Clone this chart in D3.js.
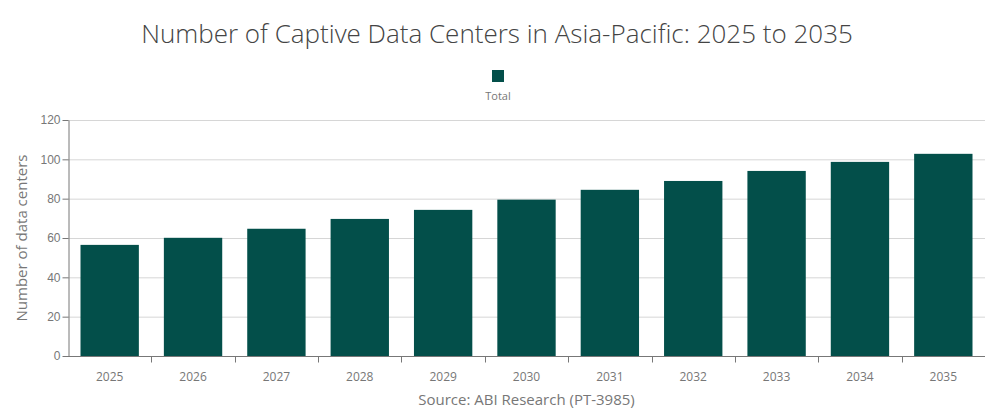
<!DOCTYPE html>
<html>
<head>
<meta charset="utf-8">
<script src="https://cdn.jsdelivr.net/npm/d3@7"></script>
<style>
  body { margin: 0; background: #fff; }
  svg { font-family: "Open Sans", "Noto Sans", sans-serif; }
</style>
</head>
<body>
<div id="chart"><svg width="994" height="420"></svg></div>
<script>
var years = ["2025", "2026", "2027", "2028", "2029", "2030", "2031", "2032", "2033", "2034", "2035"];
var totals = [56.5, 60.1, 64.7, 69.7, 74.3, 79.5, 84.5, 89.0, 94.1, 98.7, 102.8];
var yTicks = [0, 20, 40, 60, 80, 100, 120];
var seriesName = "Total";

var svg = d3.select("#chart svg");
var margin = {left: 68, right: 9, top: 120, bottom: 64};
var w = 994 - margin.left - margin.right;
var h = 420 - margin.top - margin.bottom;
var barColor = "#034f4a";

var x = d3.scaleBand().domain(years).range([0, w]).paddingInner(0.3).paddingOuter(0.15);
var y = d3.scaleLinear().domain([0, 120]).range([h, 0]);

var g = svg.append("g").attr("transform", "translate(" + margin.left + "," + margin.top + ")");

// gridlines
g.selectAll("line.grid")
  .data(yTicks.slice(1))
  .enter().append("line")
  .attr("class", "grid")
  .attr("x1", 0).attr("x2", w)
  .attr("y1", function(d) { return y(d) + 0.5; })
  .attr("y2", function(d) { return y(d) + 0.5; })
  .attr("stroke", "#d6d6d6");

// bars
g.selectAll("rect.bar")
  .data(totals)
  .enter().append("rect")
  .attr("class", "bar")
  .attr("x", function(d, i) { return x(years[i]); })
  .attr("width", x.bandwidth())
  .attr("y", function(d) { return y(d); })
  .attr("height", function(d) { return h - y(d); })
  .attr("fill", barColor);

// y axis
var yAxis = g.append("g")
  .attr("transform", "translate(0.5,0)")
  .call(d3.axisLeft(y).tickValues(yTicks).tickSize(6).tickSizeOuter(0));
yAxis.select(".domain").attr("stroke", "#777");
yAxis.selectAll(".tick line").attr("stroke", "#777");
yAxis.selectAll(".tick text").attr("fill", "#777").style("font-size", "12px").attr("x", -8);

// x axis: ticks sit between the bands
var xg = g.append("g").attr("transform", "translate(0," + (h + 0.5) + ")");
xg.append("line").attr("x1", 0).attr("x2", w).attr("stroke", "#777");
var step = x.step();
xg.selectAll("line.sep")
  .data(years.slice(1))
  .enter().append("line")
  .attr("class", "sep")
  .attr("x1", function(d) { return Math.round(x(d) - step * x.paddingInner() / 2) + 0.5; })
  .attr("x2", function(d) { return Math.round(x(d) - step * x.paddingInner() / 2) + 0.5; })
  .attr("y1", 0).attr("y2", 6)
  .attr("stroke", "#777");
xg.selectAll("text")
  .data(years)
  .enter().append("text")
  .attr("x", function(d) { return x(d) + x.bandwidth() / 2; })
  .attr("y", 24)
  .attr("text-anchor", "middle")
  .attr("fill", "#777")
  .style("font-size", "12px")
  .text(function(d) { return d; });

// title
svg.append("text")
  .attr("x", 497).attr("y", 43)
  .attr("text-anchor", "middle")
  .attr("fill", "#444")
  .style("font-size", "26px")
  .style("font-weight", "300")
  .text("Number of Captive Data Centers in Asia-Pacific: 2025 to 2035");

// legend
svg.append("rect")
  .attr("x", 492).attr("y", 70).attr("width", 12).attr("height", 12)
  .attr("fill", barColor);
svg.append("text")
  .attr("x", 498).attr("y", 100)
  .attr("text-anchor", "middle")
  .attr("fill", "#777")
  .style("font-size", "11px")
  .text(seriesName);

// axis titles
svg.append("text")
  .attr("transform", "translate(27," + (margin.top + h / 2) + ") rotate(-90)")
  .attr("text-anchor", "middle")
  .attr("fill", "#777")
  .style("font-size", "15px")
  .text("Number of data centers");

svg.append("text")
  .attr("x", margin.left + w / 2).attr("y", 405)
  .attr("text-anchor", "middle")
  .attr("fill", "#777")
  .style("font-size", "15px")
  .text("Source: ABI Research (PT-3985)");
</script>
</body>
</html>
